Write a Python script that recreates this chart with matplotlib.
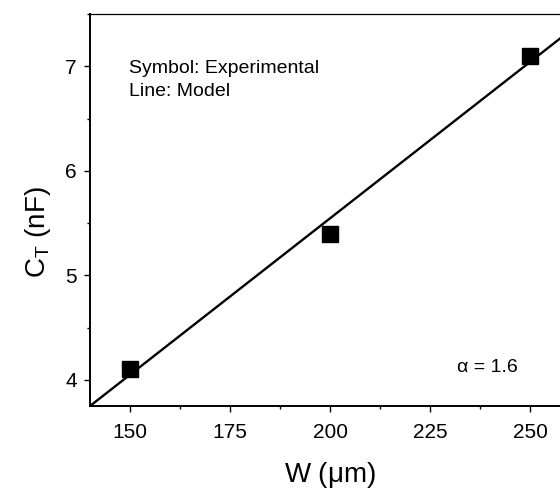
import matplotlib
matplotlib.use('Agg')
import matplotlib.pyplot as plt
from matplotlib.ticker import MultipleLocator

plt.rcParams['font.family'] = ['Liberation Sans', 'DejaVu Sans']
plt.rcParams['mathtext.fontset'] = 'custom'
plt.rcParams['mathtext.rm'] = 'Liberation Sans'

# misure sperimentali
w_exp = [150, 200, 250]
c_exp = [4.1, 5.4, 7.1]

# retta del modello (estremi)
w_model = [140, 260]
c_model = [3.75, 7.34]

fig = plt.figure(figsize=(5.6, 4.9), dpi=100)
ax = fig.add_axes([90 / 560, 84 / 490, 480 / 560, 392 / 490])

ax.plot(w_model, c_model, color='black', lw=1.7, zorder=2)
ax.plot(w_exp, c_exp, 's', color='black', ms=11, zorder=3)

ax.set_xlim(140, 260)
ax.set_ylim(3.75, 7.5)
ax.xaxis.set_major_locator(MultipleLocator(25))
ax.xaxis.set_minor_locator(MultipleLocator(12.5))
ax.yaxis.set_major_locator(MultipleLocator(1))
ax.yaxis.set_minor_locator(MultipleLocator(0.5))

for s in ax.spines.values():
    s.set_linewidth(1.4)
ax.spines['top'].set_linewidth(0.9)

ax.tick_params(which='major', direction='out', length=4.5, width=1.0,
               labelsize=15)
ax.tick_params(axis='x', which='major', pad=8)
ax.tick_params(axis='y', which='major', pad=5)
ax.tick_params(which='minor', direction='out', length=2.5, width=1.0)
ax.tick_params(which='both', top=False, right=False)

ax.set_xlabel(r'W ($\mathrm{\mu}$m)', fontsize=20)
ax.set_ylabel(r'C$_\mathrm{T}$ (nF)', fontsize=20)
ax.xaxis.set_label_coords(0.5, -0.137)
ax.yaxis.set_label_coords(-0.077, 0.444)

ax.text(149.75, 6.94, 'Symbol: Experimental', fontsize=14,
        va='baseline', ha='left')
ax.text(149.75, 6.72, 'Line: Model', fontsize=14,
        va='baseline', ha='left')
ax.text(231.75, 4.08, '\u03b1 = 1.6', fontsize=14, va='baseline', ha='left')

fig.savefig('out.png', dpi=100)
